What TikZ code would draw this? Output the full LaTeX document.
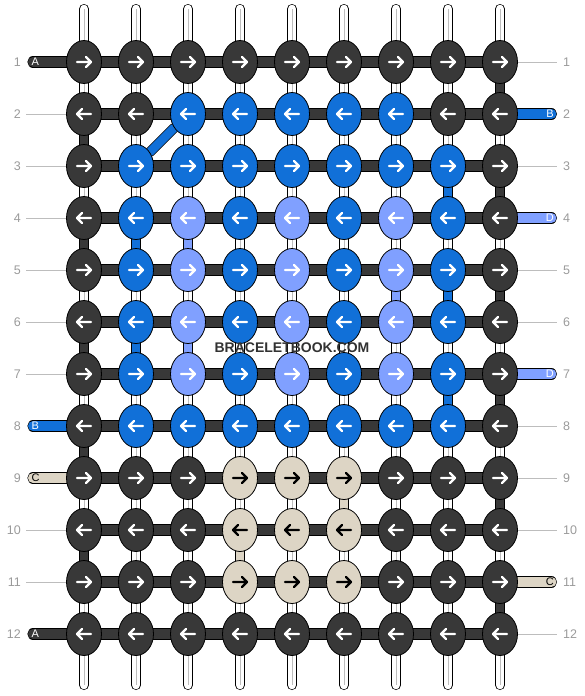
\documentclass[tikz,border=0pt]{standalone}
\usepackage{fontspec}
\setmainfont{Liberation Sans}
\usetikzlibrary{shapes.geometric,backgrounds}

\definecolor{knK}{HTML}{383838}
\definecolor{knB}{HTML}{1170D8}
\definecolor{knL}{HTML}{80A0FF}
\definecolor{knC}{HTML}{DDD5C5}
\definecolor{guideline}{HTML}{BDBDBD}
\definecolor{rownum}{HTML}{9A9A9A}

\tikzset{
  knot/.style={ellipse,draw=black,line width=0.8pt,minimum width=35pt,minimum height=43pt,inner sep=0pt},
  knotK/.style={knot,fill=knK},
  knotB/.style={knot,fill=knB},
  knotL/.style={knot,fill=knL},
  knotC/.style={knot,fill=knC},
  arrK/.style={draw=white},
  arrB/.style={draw=white},
  arrL/.style={draw=white},
  arrC/.style={draw=black},
  arrowmark/.style={line width=2.4pt,line cap=round,line join=round},
  strand/.style={draw=black,line width=0.7pt,double=#1,double distance=8.6pt,line cap=round},
  rowbar/.style={draw=black,line width=0.6pt,double=#1,double distance=10pt,line cap=round},
  guide/.style={draw=guideline,line width=0.8pt},
  rowlabel/.style={text=rownum,font=\fontsize{12.5}{14}\selectfont,inner sep=0pt},
  stublabel/.style={font=\fontsize{11}{12}\selectfont,inner sep=0pt}
}

\begin{document}
\begin{tikzpicture}[x=1pt,y=-1pt]
  \useasboundingbox (0,0) rectangle (584,696);

  \foreach \r/\dir/\row in {
    1/1/{K,K,K,K,K,K,K,K,K},
    2/-1/{K,K,B,B,B,B,B,K,K},
    3/1/{K,B,B,B,B,B,B,B,K},
    4/-1/{K,B,L,B,L,B,L,B,K},
    5/1/{K,B,L,B,L,B,L,B,K},
    6/-1/{K,B,L,B,L,B,L,B,K},
    7/1/{K,B,L,B,L,B,L,B,K},
    8/-1/{K,B,B,B,B,B,B,B,K},
    9/1/{K,K,K,C,C,C,K,K,K},
    10/-1/{K,K,K,C,C,C,K,K,K},
    11/1/{K,K,K,C,C,C,K,K,K},
    12/-1/{K,K,K,K,K,K,K,K,K}}{
    \foreach \k [count=\c] in \row {
      \node[knot\k] (n-\r-\c) at ({84+52*(\c-1)},{62+52*(\r-1)}) {};
      \draw[arrowmark,arr\k,shift={(n-\r-\c.center)},xscale=\dir]
        (-7,0) -- (7,0) (2,-5) -- (7,0) -- (2,5);
    }
    \node[rowlabel,anchor=east] (num-l-\r) at (21,{62+52*(\r-1)}) {\r};
    \node[rowlabel,anchor=west] (num-r-\r) at (563,{62+52*(\r-1)}) {\r};
  }

  \begin{scope}[on background layer]
    \foreach \c in {1,...,9} {
      \coordinate (top-\c) at ({84+52*(\c-1)},9);
      \coordinate (bot-\c) at ({84+52*(\c-1)},685);
      \draw[strand=white] (top-\c) -- (bot-\c);
      \draw[guideline,line width=0.7pt] (top-\c) -- (bot-\c);
    }
    \foreach \c/\r/\k in {1/2/K,1/4/K,1/6/K,1/8/K,1/10/K,
                          9/1/K,9/3/K,9/5/K,9/7/K,9/9/K,9/11/K,
                          2/4/B,2/6/B,8/3/B,8/5/B,8/7/B,
                          3/4/L,3/6/L,7/5/L,4/10/C,6/9/C} {
      \pgfmathtruncatemacro\s{\r+1}
      \draw[strand=kn\k] (n-\r-\c) -- (n-\s-\c);
    }
    \draw[strand=knB] (n-3-2) -- (n-2-3);
    \foreach \r in {1,...,12}
      \draw[rowbar=knK] (n-\r-1) -- (n-\r-9);

    \foreach \r/\k/\lab/\txt in {1/K/A/white,8/B/B/white,9/C/C/black,12/K/A/white} {
      \coordinate (end-l-\r) at (33,{62+52*(\r-1)});
      \draw[rowbar=kn\k] (n-\r-1) -- (end-l-\r);
      \node[stublabel,text=\txt,anchor=west] (tag-l-\r) at (31.5,{62+52*(\r-1)}) {\lab};
    }
    \foreach \r/\k/\lab/\txt in {2/B/B/white,4/L/D/white,7/L/D/white,11/C/C/black} {
      \coordinate (end-r-\r) at (551.4,{62+52*(\r-1)});
      \draw[rowbar=kn\k] (n-\r-9) -- (end-r-\r);
      \node[stublabel,text=\txt,anchor=east] (tag-r-\r) at (554,{62+52*(\r-1)}) {\lab};
    }
    \foreach \r in {2,3,4,5,6,7,10,11} {
      \coordinate (gl-\r) at (26,{62+52*(\r-1)});
      \draw[guide] (gl-\r) -- (n-\r-1);
    }
    \foreach \r in {1,3,5,6,8,9,10,12} {
      \coordinate (gr-\r) at (557,{62+52*(\r-1)});
      \draw[guide] (n-\r-9) -- (gr-\r);
    }
  \end{scope}

  \node[font=\bfseries\fontsize{14}{16}\selectfont,text=knK!90!black] (mark) at (292,348) {BRACELETBOOK.COM};
\end{tikzpicture}
\end{document}
